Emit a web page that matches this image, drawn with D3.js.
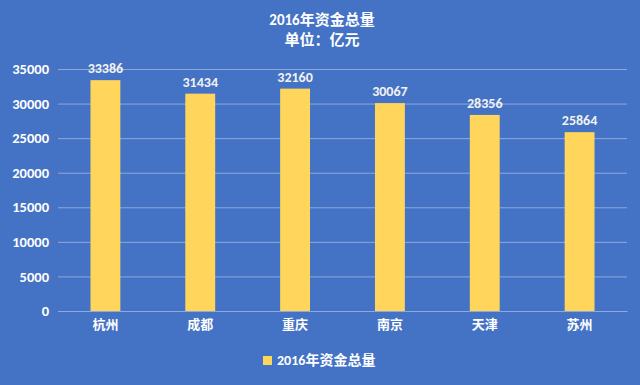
<!DOCTYPE html>
<html>
<head>
<meta charset="utf-8">
<script src="https://cdn.jsdelivr.net/npm/d3@7"></script>
<style>
  body { margin: 0; background: #4472c4; }
  text { font-family: Calibri, Carlito, 'Liberation Sans', 'Noto Sans CJK SC', sans-serif; }
</style>
</head>
<body>
<div id="chart"></div>
<script>
// data
var cities = ['杭州', '成都', '重庆', '南京', '天津', '苏州']
var totals = [33386, 31434, 32160, 30067, 28356, 25864]
var yTicks = [0, 5000, 10000, 15000, 20000, 25000, 30000, 35000]
var titleLines = ['2016年资金总量', '单位：亿元']
var seriesName = '2016年资金总量'

var W = 640
var H = 385
var margin = { top: 69, left: 58, right: 13, bottom: 74 }
var width = W - margin.left - margin.right
var height = H - margin.top - margin.bottom

var svg = d3
  .select('#chart')
  .append('svg')
  .attr('width', W)
  .attr('height', H)

svg.append('rect')
  .attr('width', W)
  .attr('height', H)
  .attr('fill', '#4472c4')

var g = svg.append('g')
  .attr('transform', `translate(${margin.left},${margin.top})`)

var xScale = d3.scaleBand()
  .domain(cities)
  .range([0, width])
  .paddingInner(0.685)
  .paddingOuter(0.3425)

var yScale = d3.scaleLinear()
  .domain([0, 35000])
  .range([height, 0])

// gridlines
g.selectAll('.grid')
  .data(yTicks)
  .enter()
  .append('line')
  .attr('class', 'grid')
  .attr('x1', 0)
  .attr('x2', width)
  .attr('y1', d => yScale(d) + 0.5)
  .attr('y2', d => yScale(d) + 0.5)
  .attr('stroke', '#8ea9db')
  .attr('stroke-width', 1)

// y axis labels
var yAxis = d3.axisLeft(yScale)
  .tickValues(yTicks)
  .tickFormat(d3.format('d'))
  .tickSize(0)
  .tickPadding(9)
var yg = g.append('g').call(yAxis)
yg.select('.domain').remove()
yg.selectAll('text')
  .attr('fill', '#ffffff')
  .attr('font-size', 14.5)
  .attr('font-weight', 'bold')

// bars
var data = cities.map((c, i) => ({ city: c, value: totals[i] }))

g.selectAll('.bar')
  .data(data)
  .enter()
  .append('rect')
  .attr('class', 'bar')
  .attr('x', d => xScale(d.city))
  .attr('y', d => yScale(d.value))
  .attr('width', xScale.bandwidth())
  .attr('height', d => height - yScale(d.value))
  .attr('fill', '#ffd55c')

// value labels
g.selectAll('.val')
  .data(data)
  .enter()
  .append('text')
  .attr('class', 'val')
  .attr('x', d => xScale(d.city) + xScale.bandwidth() / 2)
  .attr('y', d => yScale(d.value) - 7)
  .attr('text-anchor', 'middle')
  .attr('fill', '#f2f2f2')
  .attr('font-size', 14)
  .attr('font-weight', 'bold')
  .text(d => d.value)

// x axis
var xAxis = d3.axisBottom(xScale).tickSize(0).tickPadding(9)
var xg = g.append('g')
  .attr('transform', `translate(0,${height})`)
  .call(xAxis)
xg.select('.domain').attr('stroke', '#8ea9db')
xg.selectAll('text')
  .attr('fill', '#ffffff')
  .attr('font-size', 13)
  .attr('font-weight', 'bold')
  .attr('font-family', "'Noto Sans CJK SC', sans-serif")

// title
svg.selectAll('.title')
  .data(titleLines)
  .enter()
  .append('text')
  .attr('class', 'title')
  .attr('x', 322)
  .attr('y', (d, i) => 25 + i * 20)
  .attr('text-anchor', 'middle')
  .attr('fill', '#ffffff')
  .attr('font-size', 15)
  .attr('font-weight', 'bold')
  .attr('font-family', "'Noto Serif CJK SC', 'Noto Sans CJK SC', serif")
  .text(d => d)

// legend
var legend = svg.append('g').attr('transform', 'translate(263,356)')
legend.append('rect')
  .attr('width', 9)
  .attr('height', 9)
  .attr('fill', '#ffd55c')
legend.append('text')
  .attr('x', 14)
  .attr('y', 9)
  .attr('fill', '#ffffff')
  .attr('font-size', 14)
  .attr('font-weight', 'bold')
  .attr('font-family', "'Noto Sans CJK SC', sans-serif")
  .text(seriesName)
</script>
</body>
</html>
